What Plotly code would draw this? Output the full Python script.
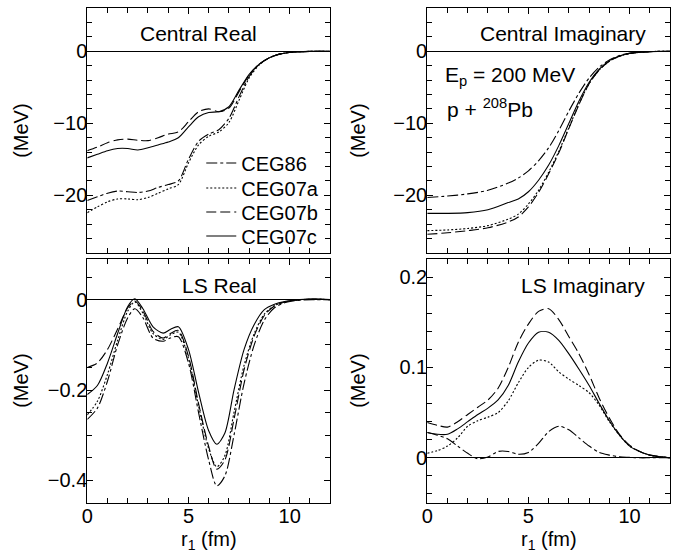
import plotly.graph_objects as go
from plotly.subplots import make_subplots

models = ["CEG86", "CEG07a", "CEG07b", "CEG07c"]
dashes = {"CEG86": "11px,3px,3px,3px", "CEG07a": "2px,2px", "CEG07b": "10px,4px", "CEG07c": "solid"}

# Central Real
r_cr = [0, 0.5, 1, 1.5, 2, 2.5, 3, 3.5, 4, 4.5, 5, 5.5, 6, 6.5, 7, 7.5, 8, 8.5, 9, 9.5, 10, 11, 12]
cr = {
    "CEG86":  [-20.7, -20.2, -19.7, -19.4, -19.5, -19.6, -19.4, -18.9, -18.5, -18.0, -15.0, -12.5, -11.5, -10.9, -9.3, -6.3, -3.5, -1.8, -0.9, -0.4, -0.17, -0.02, 0],
    "CEG07a": [-22.4, -21.6, -20.9, -20.5, -20.5, -20.6, -20.3, -19.7, -19.1, -18.5, -15.5, -13.0, -11.8, -11.2, -9.9, -6.8, -3.7, -1.9, -0.9, -0.4, -0.17, -0.02, 0],
    "CEG07b": [-13.8, -13.3, -12.7, -12.3, -12.2, -12.35, -12.4, -12.0, -11.5, -11.2, -9.8, -8.4, -8.0, -8.4, -7.9, -5.6, -3.3, -1.8, -0.9, -0.4, -0.17, -0.02, 0],
    "CEG07c": [-14.8, -14.3, -13.8, -13.5, -13.5, -13.7, -13.4, -13.0, -12.6, -12.0, -10.5, -9.1, -8.5, -8.4, -7.7, -5.4, -3.2, -1.8, -0.9, -0.4, -0.17, -0.02, 0],
}

# Central Imaginary
r_ci = [0, 1, 2, 3, 4, 4.5, 5, 5.5, 6, 6.5, 7, 7.5, 8, 8.5, 9, 9.5, 10, 11, 12]
ci = {
    "CEG86":  [-20.3, -20.1, -19.8, -19.3, -18.3, -17.6, -16.6, -15.2, -13.4, -11.0, -8.3, -5.8, -3.7, -2.2, -1.2, -0.6, -0.3, -0.05, 0],
    "CEG07a": [-24.9, -24.8, -24.6, -24.2, -23.3, -22.6, -21.2, -19.3, -16.8, -13.9, -10.6, -7.3, -4.5, -2.6, -1.4, -0.7, -0.3, -0.05, 0],
    "CEG07b": [-25.4, -25.2, -24.9, -24.5, -23.7, -23.0, -21.6, -19.6, -17.0, -14.1, -10.7, -7.4, -4.5, -2.6, -1.4, -0.7, -0.3, -0.05, 0],
    "CEG07c": [-22.5, -22.5, -22.4, -22.0, -21.0, -20.5, -19.5, -17.9, -15.8, -13.1, -10.0, -6.9, -4.3, -2.5, -1.3, -0.65, -0.3, -0.05, 0],
}

# LS Real
r_lr = [0, 0.5, 1, 1.5, 2, 2.35, 2.75, 3.25, 3.75, 4.1, 4.5, 5, 5.5, 6, 6.4, 6.8, 7.25, 7.75, 8.25, 8.75, 9.25, 9.75, 10.5, 11.25, 12]
lr = {
    "CEG86":  [-0.265, -0.24, -0.18, -0.10, -0.04, -0.02, -0.04, -0.085, -0.092, -0.085, -0.082, -0.14, -0.25, -0.355, -0.412, -0.39, -0.30, -0.185, -0.10, -0.045, -0.018, -0.007, -0.001, 0, 0],
    "CEG07a": [-0.255, -0.225, -0.165, -0.09, -0.025, -0.005, -0.03, -0.075, -0.088, -0.078, -0.072, -0.13, -0.235, -0.33, -0.37, -0.345, -0.25, -0.145, -0.075, -0.032, -0.013, -0.005, 0, 0.001, 0],
    "CEG07b": [-0.15, -0.14, -0.11, -0.065, -0.018, -0.003, -0.025, -0.07, -0.085, -0.075, -0.068, -0.125, -0.23, -0.325, -0.375, -0.355, -0.265, -0.155, -0.08, -0.035, -0.014, -0.005, 0, 0.001, 0],
    "CEG07c": [-0.21, -0.19, -0.14, -0.075, -0.015, 0.002, -0.02, -0.06, -0.074, -0.066, -0.06, -0.11, -0.205, -0.29, -0.32, -0.295, -0.20, -0.11, -0.055, -0.022, -0.01, -0.004, 0, 0.002, 0],
}

# LS Imaginary
r_li = [0, 0.5, 1, 1.5, 2, 2.5, 3, 3.5, 4, 4.5, 5, 5.5, 6, 6.5, 7, 7.5, 8, 8.5, 9, 9.5, 10, 10.5, 11, 12]
li = {
    "CEG86":  [0.028, 0.025, 0.021, 0.013, 0.005, -0.001, 0.001, 0.007, 0.007, 0.004, 0.006, 0.016, 0.029, 0.035, 0.031, 0.022, 0.013, 0.006, 0.003, 0.001, 0.0005, 0, 0, 0],
    "CEG07a": [0.005, 0.008, 0.013, 0.022, 0.035, 0.041, 0.045, 0.050, 0.063, 0.083, 0.100, 0.108, 0.106, 0.095, 0.087, 0.080, 0.072, 0.058, 0.040, 0.025, 0.013, 0.007, 0.003, 0],
    "CEG07b": [0.039, 0.036, 0.034, 0.040, 0.048, 0.056, 0.064, 0.077, 0.100, 0.128, 0.148, 0.162, 0.165, 0.153, 0.134, 0.115, 0.092, 0.066, 0.044, 0.026, 0.014, 0.007, 0.003, 0],
    "CEG07c": [0.028, 0.026, 0.026, 0.032, 0.040, 0.048, 0.055, 0.064, 0.080, 0.106, 0.127, 0.139, 0.139, 0.130, 0.115, 0.098, 0.080, 0.060, 0.041, 0.025, 0.013, 0.007, 0.003, 0],
}

panels = [(1, 1, r_cr, cr), (1, 2, r_ci, ci), (2, 1, r_lr, lr), (2, 2, r_li, li)]
legend_ids = {"CEG86": "legend", "CEG07a": "legend2", "CEG07b": "legend3", "CEG07c": "legend4"}

fig = make_subplots(rows=2, cols=2)
for (row, col, rr, data) in panels:
    for m in models:
        fig.add_trace(go.Scatter(
            x=rr, y=data[m], mode="lines", name=m, legend=legend_ids[m],
            line=dict(color="black", width=1.1, dash=dashes[m], shape="spline", smoothing=0.8),
            showlegend=(row == 1 and col == 1)), row=row, col=col)

W, H = 679, 552
xdom = {1: [82 / W, 327 / W], 2: [425 / W, 670 / W]}
ydom = {1: [1 - 253 / H, 1 - 8 / H], 2: [1 - 503 / H, 1 - 259 / H]}
yranges = {(1, 1): ([-28, 6], 10, 2), (1, 2): ([-28, 6], 10, 2),
           (2, 1): ([-0.45, 0.09], 0.2, 0.05), (2, 2): ([-0.05, 0.22], 0.1, 0.02)}

font = "Liberation Sans, Arial, Helvetica, sans-serif"
for row in (1, 2):
    for col in (1, 2):
        rng, dt, mdt = yranges[(row, col)]
        fig.update_xaxes(domain=xdom[col], range=[0, 12], dtick=5, tick0=0,
                         ticks="inside", ticklen=6, tickcolor="black", mirror="allticks",
                         showline=True, linecolor="black", linewidth=1, showgrid=False, zeroline=False,
                         showticklabels=(row == 2), ticklabelstandoff=-5,
                         tickfont=dict(family=font, size=20, color="black"),
                         minor=dict(dtick=1, ticks="inside", ticklen=5, tickcolor="black", showgrid=False),
                         row=row, col=col)
        fig.update_yaxes(domain=ydom[row], range=rng, dtick=dt, tick0=0,
                         ticks="inside", ticklen=6, tickcolor="black", mirror="allticks",
                         showline=True, linecolor="black", linewidth=1, showgrid=False,
                         zeroline=True, zerolinecolor="black", zerolinewidth=1,
                         ticklabelstandoff=-5,
                         tickfont=dict(family=font, size=20, color="black"),
                         minor=dict(dtick=mdt, ticks="inside", ticklen=5, tickcolor="black", showgrid=False),
                         row=row, col=col)

ann = []
def txt(x, y, s, size=21, angle=0, xanchor="center", yanchor="middle"):
    ann.append(dict(x=x / W, y=1 - y / H, xref="paper", yref="paper", text=s, showarrow=False,
                    font=dict(family=font, size=size, color="black"), textangle=angle,
                    xanchor=xanchor, yanchor=yanchor))

txt(194, 33, "Central Real")
txt(562, 33, "Central Imaginary")
txt(215, 285, "LS Real")
txt(582, 285, "LS Imaginary")
txt(15, 131, "(MeV)", size=20, angle=-90)
txt(355, 131, "(MeV)", size=20, angle=-90)
txt(15, 381, "(MeV)", size=20, angle=-90)
txt(355, 381, "(MeV)", size=20, angle=-90)
txt(204.5, 540, "r<sub>1</sub> (fm)", size=20)
txt(547.5, 540, "r<sub>1</sub> (fm)", size=20)
txt(441, 76, "E<sub>p</sub> = 200 MeV", size=21, xanchor="left")
txt(443, 108, "p + <sup>208</sup>Pb", size=21, xanchor="left")

legend_rows = {"legend": 163, "legend2": 188, "legend3": 212, "legend4": 236}
legend_layout = {}
for lid, yc in legend_rows.items():
    legend_layout[lid] = dict(x=197 / W, y=1 - yc / H, xanchor="left", yanchor="middle",
                              bgcolor="rgba(0,0,0,0)", itemwidth=30,
                              font=dict(family=font, size=20, color="black"))

fig.update_layout(
    width=W, height=H, margin=dict(l=0, r=0, t=0, b=0),
    paper_bgcolor="white", plot_bgcolor="white",
    annotations=ann,
    **legend_layout,
)
fig.write_html("out.html")
